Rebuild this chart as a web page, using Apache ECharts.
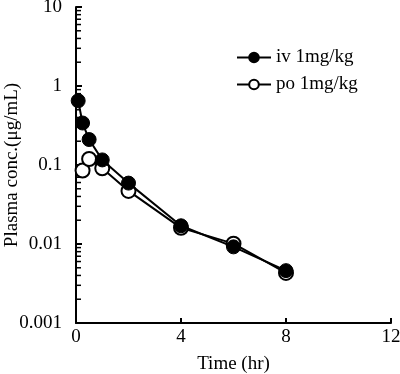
<!DOCTYPE html>
<html lang="en" style="height: 100%">
<head>
  <meta charset="utf-8">
</head>
<body style="height: 100%; margin: 0">
  <div id="container" style="width: 400px; height: 374px"></div>
  <script type="text/javascript" src="https://fastly.jsdelivr.net/npm/echarts@6.0.0/dist/echarts.min.js"></script>
  <script type="text/javascript">
    // time points (hr) and concentrations (ug/mL)
    var ivTime = [0.083, 0.25, 0.5, 1, 2, 4, 6, 8];
    var ivConc = [0.65, 0.34, 0.21, 0.116, 0.059, 0.017, 0.0092, 0.0046];
    var poTime = [0.25, 0.5, 1, 2, 4, 6, 8];
    var poConc = [0.085, 0.119, 0.091, 0.047, 0.016, 0.0101, 0.0043];
    var xTicks = [0, 4, 8, 12];
    var yTicks = [0.001, 0.01, 0.1, 1, 10];

    // minor ticks of the log axis: 2..9 x each decade
    var minorValues = [];
    for (var d = 0; d < yTicks.length - 1; d++) {
      for (var k = 2; k <= 9; k++) {
        minorValues.push([0, +(k * yTicks[d]).toPrecision(3)]);
      }
    }

    function pairs(xs, ys) {
      return xs.map(function (x, i) { return [x, ys[i]]; });
    }

    var font = 'Liberation Serif';
    var fs = 19;

    var dom = document.getElementById('container');
    var myChart = echarts.init(dom, null, { renderer: 'canvas' });

    var option = {
      animation: false,
      textStyle: { fontFamily: font, color: '#000' },
      grid: { left: 76, right: 9, top: 7, bottom: 51, containLabel: false, outerBoundsMode: 'none' },
      legend: {
        data: ['iv 1mg/kg', 'po 1mg/kg'],
        orient: 'vertical',
        left: 231,
        top: 43,
        itemWidth: 34,
        itemHeight: 12,
        itemGap: 8,
        textStyle: { fontFamily: font, fontSize: fs, color: '#000' }
      },
      xAxis: {
        type: 'value',
        min: xTicks[0],
        max: xTicks[xTicks.length - 1],
        interval: 4,
        name: 'Time (hr)',
        nameLocation: 'middle',
        nameGap: 32,
        nameMoveOverlap: false,
        nameTextStyle: { fontFamily: font, fontSize: fs, color: '#000' },
        axisLine: { lineStyle: { color: '#000', width: 2 } },
        axisTick: { inside: true, length: 5, lineStyle: { color: '#000', width: 2 } },
        axisLabel: { fontFamily: font, fontSize: fs, color: '#000', margin: 5 },
        splitLine: { show: false }
      },
      yAxis: {
        type: 'log',
        logBase: 10,
        min: yTicks[0],
        max: yTicks[yTicks.length - 1],
        name: 'Plasma conc.(μg/mL)',
        nameLocation: 'middle',
        nameGap: 54,
        nameMoveOverlap: false,
        nameTextStyle: { fontFamily: font, fontSize: fs, color: '#000' },
        axisLine: { lineStyle: { color: '#000', width: 2 } },
        axisTick: { inside: true, length: 6, lineStyle: { color: '#000', width: 2 } },
        axisLabel: {
          fontFamily: font, fontSize: fs, color: '#000', margin: 14,
          formatter: function (v) { return String(+v.toPrecision(3)); }
        },
        splitLine: { show: false }
      },
      series: [
        {
          name: 'minor',
          type: 'custom',
          silent: true,
          clip: false,
          data: minorValues,
          renderItem: function (params, api) {
            var p = api.coord([api.value(0), api.value(1)]);
            return {
              type: 'line',
              shape: { x1: p[0], y1: p[1], x2: p[0] + 5, y2: p[1] },
              style: { stroke: '#000', lineWidth: 1.5 }
            };
          },
          z: 1
        },
        {
          name: 'po 1mg/kg',
          type: 'line',
          data: pairs(poTime, poConc),
          symbol: 'circle',
          symbolSize: 14,
          itemStyle: { color: '#fff', borderColor: '#000', borderWidth: 2 },
          lineStyle: { color: '#000', width: 2 },
          z: 2
        },
        {
          name: 'iv 1mg/kg',
          type: 'line',
          data: pairs(ivTime, ivConc),
          symbol: 'circle',
          symbolSize: 14,
          itemStyle: { color: '#000', borderColor: '#000', borderWidth: 1 },
          lineStyle: { color: '#000', width: 2 },
          z: 3
        }
      ]
    };

    myChart.setOption(option);
  </script>
</body>
</html>
